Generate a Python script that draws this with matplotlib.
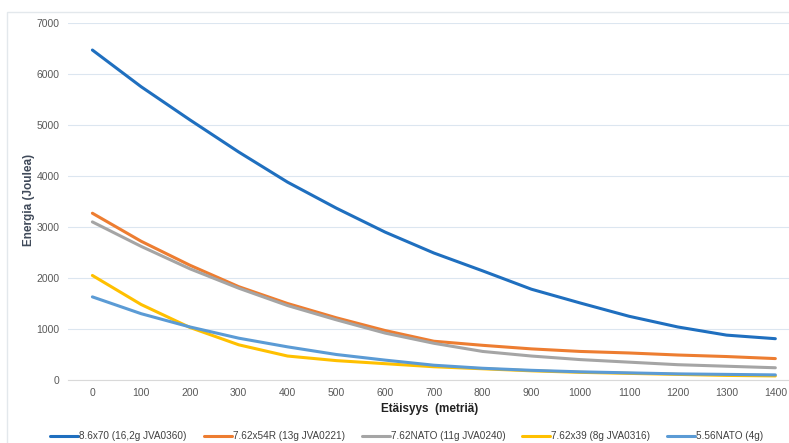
import matplotlib
matplotlib.use("Agg")
import matplotlib.pyplot as plt
from matplotlib.patches import Rectangle

distances = [0, 100, 200, 300, 400, 500, 600, 700, 800, 900, 1000, 1100, 1200, 1300, 1400]
s_86x70 = [6470, 5750, 5100, 4470, 3880, 3370, 2900, 2490, 2140, 1780, 1510, 1250, 1040, 880, 810]
s_762x54r = [3270, 2720, 2250, 1830, 1500, 1220, 970, 760, 680, 610, 560, 530, 490, 460, 420]
s_762nato = [3100, 2620, 2180, 1800, 1460, 1180, 920, 720, 560, 470, 400, 350, 300, 270, 240]
s_762x39 = [2050, 1480, 1030, 690, 470, 380, 320, 260, 220, 180, 150, 130, 110, 90, 80]
s_556nato = [1630, 1300, 1040, 820, 650, 500, 390, 290, 230, 190, 160, 140, 120, 110, 100]

labels = ["8.6x70 (16,2g JVA0360)", "7.62x54R (13g JVA0221)", "7.62NATO (11g JVA0240)",
          "7.62x39 (8g JVA0316)", "5.56NATO (4g)"]
series = [s_86x70, s_762x54r, s_762nato, s_762x39, s_556nato]
colors = ["#1F6FBF", "#ED7D31", "#A5A5A5", "#FFC000", "#5B9BD5"]

plt.rcParams['font.family'] = ['Liberation Sans', 'DejaVu Sans']

fig = plt.figure(figsize=(7.89, 4.43), dpi=100)
ax = fig.add_axes([68/789, 63/443, 1 - 68/789, (380-23)/443])

xpos = list(range(len(distances)))
for s, c, l in zip(series, colors, labels):
    ax.plot(xpos, s, color=c, lw=2.2, label=l, solid_capstyle='round')

ax.set_xlim(-0.5, 14.28)
ax.set_ylim(0, 7000)
ax.set_yticks(range(0, 7001, 1000))
ax.set_xticks(xpos)
ax.set_xticklabels([str(d) for d in distances])
ax.grid(axis='y', color='#DCE6F0', lw=0.8)
ax.set_axisbelow(True)
for sp in ax.spines.values():
    sp.set_visible(False)
ax.spines['bottom'].set_visible(True)
ax.spines['bottom'].set_color('#D9D9D9')
ax.tick_params(length=0, labelsize=7.5, colors='#595959', pad=6)

fig.text(29/789, 1 - 200/443, "Energia (Joulea)", rotation=90, ha='center', va='center',
         fontsize=8.5, fontweight='bold', color='#404A5A')
fig.text(430/789, 1 - 409/443, "Etäisyys  (metriä)", ha='center', va='center',
         fontsize=8.5, fontweight='bold', color='#222222')

leg = fig.legend(loc='center', bbox_to_anchor=(407/789, 1 - 436/443), ncol=5, frameon=False,
                 fontsize=7.2, handlelength=2.8, handletextpad=0.1, columnspacing=1.7,
                 labelcolor='#404040')

fig.patches.append(Rectangle((7/789, -0.1), 2, 1 - 12/443 + 0.1, transform=fig.transFigure,
                             fill=False, edgecolor='#E3E8EC', lw=1))

fig.savefig("out.png", dpi=100)
